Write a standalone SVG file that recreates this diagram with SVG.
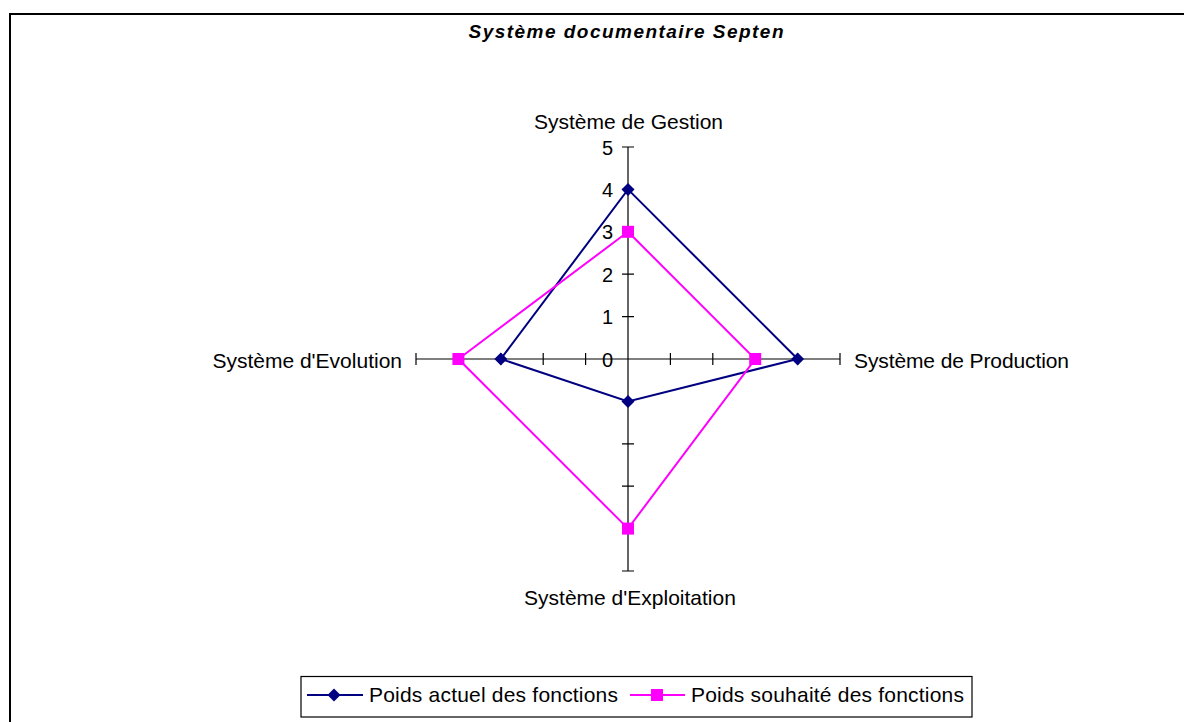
<svg xmlns="http://www.w3.org/2000/svg" width="1184" height="722" viewBox="0 0 1184 722">
<style>
text{font-family:"Liberation Sans",Arial,sans-serif;fill:#000}
.lbl{font-size:21px}
.num{font-size:20px;text-anchor:end}
.title{font-size:19px;font-weight:bold;font-style:italic;text-anchor:middle}
.axis{stroke:#000;stroke-width:1.2;fill:none}
.navy{stroke:#000080;stroke-width:2;fill:none}
.pink{stroke:#FF00FF;stroke-width:2;fill:none}
</style>
<defs>
<path id="dia" d="M0,-6.5 L6.5,0 L0,6.5 L-6.5,0 Z" fill="#000080"/>
<rect id="sq" x="-6" y="-6" width="12" height="12" fill="#FF00FF"/>
</defs>
<rect x="0" y="0" width="1184" height="722" fill="#fff"/>
<rect x="10" y="14" width="1190" height="720" fill="#fff" stroke="#000" stroke-width="2"/>
<text class="title" x="626" y="38" textLength="315" lengthAdjust="spacing">Système documentaire Septen</text>
<g id="axes">
<path class="axis" d="M628 147V571M416 359H840"/>
<path class="axis" d="M622 147H634M622 189.4H634M622 231.8H634M622 274.2H634M622 316.6H634M622 401.4H634M622 443.8H634M622 486.2H634M622 528.6H634M622 571H634"/>
<path class="axis" d="M416 353V365M458.4 353V365M500.8 353V365M543.2 353V365M585.6 353V365M670.4 353V365M712.8 353V365M755.2 353V365M797.6 353V365M840 353V365"/>
<text class="num" x="613" y="155">5</text>
<text class="num" x="613" y="197">4</text>
<text class="num" x="613" y="239">3</text>
<text class="num" x="613" y="282">2</text>
<text class="num" x="613" y="324">1</text>
<text class="num" x="613" y="367">0</text>
</g>
<g id="labels">
<text class="lbl" x="628.5" y="129" text-anchor="middle">Système de Gestion</text>
<text class="lbl" x="854" y="368" textLength="215" lengthAdjust="spacing">Système de Production</text>
<text class="lbl" x="402" y="368" text-anchor="end">Système d'Evolution</text>
<text class="lbl" x="630" y="605" text-anchor="middle">Système d'Exploitation</text>
</g>
<g id="connectors">
<path class="navy" d="M628 189.4L797.6 359L628 401.4L500.8 359Z"/>
<path class="pink" d="M628 231.8L755.2 359L628 528.6L458.4 359Z"/>
</g>
<g id="series-actuel">
<use href="#dia" x="628" y="189.4"/>
<use href="#dia" x="797.6" y="359"/>
<use href="#dia" x="628" y="401.4"/>
<use href="#dia" x="500.8" y="359"/>
</g>
<g id="series-souhaite">
<use href="#sq" x="628" y="231.8"/>
<use href="#sq" x="755.2" y="359"/>
<use href="#sq" x="628" y="528.6"/>
<use href="#sq" x="458.4" y="359"/>
</g>
<g id="legend">
<rect x="301" y="676.5" width="671" height="40.5" fill="#fff" stroke="#000" stroke-width="1.2"/>
<path class="navy" d="M307 695H363"/>
<use href="#dia" x="334" y="695"/>
<text class="lbl" x="369" y="702" textLength="249" lengthAdjust="spacing">Poids actuel des fonctions</text>
<path class="pink" d="M630 695H685"/>
<use href="#sq" x="657" y="695"/>
<text class="lbl" x="691" y="702" textLength="273" lengthAdjust="spacing">Poids souhaité des fonctions</text>
</g>
</svg>
